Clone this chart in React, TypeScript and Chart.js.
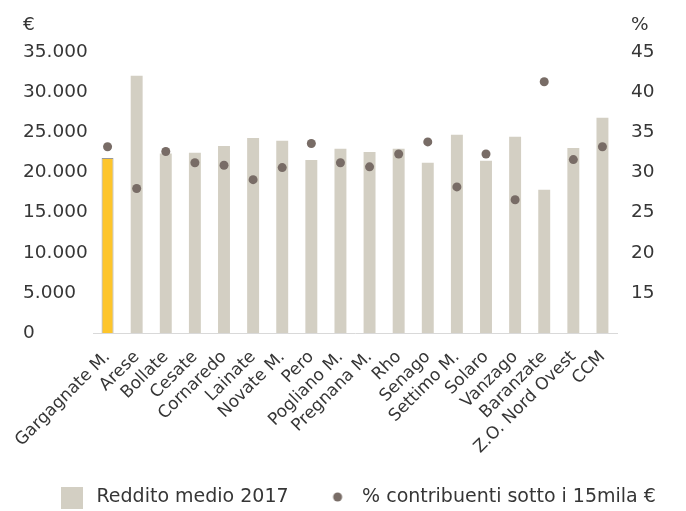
import React, { useEffect, useRef } from 'react';
import { Chart, registerables } from 'chart.js';

Chart.register(...registerables);

const categories = [
  'Gargagnate M.', 'Arese', 'Bollate', 'Cesate', 'Cornaredo', 'Lainate', 'Novate M.', 'Pero',
  'Pogliano M.', 'Pregnana M.', 'Rho', 'Senago', 'Settimo M.', 'Solaro', 'Vanzago', 'Baranzate',
  'Z.O. Nord Ovest', 'CCM',
];
const redditoMedio2017 = [
  21800, 32050, 22350, 22450, 23300, 24300, 23950, 21550, 22950, 22550, 22950, 21200, 24700,
  21450, 24450, 17850, 23050, 26800,
];
const contribuentiSotto15mila = [
  33.2, 28.0, 32.6, 31.2, 30.9, 29.1, 30.6, 33.6, 31.2, 30.7, 32.3, 33.8, 28.2, 32.3, 26.6, 41.3,
  31.6, 33.2,
];
const leftTicks = [0, 5000, 10000, 15000, 20000, 25000, 30000, 35000];
const rightTicks = [15, 20, 25, 30, 35, 40, 45];
const seriesNames = ['Reddito medio 2017', '% contribuenti sotto i 15mila €'];
const axisTitles = ['€', '%'];

const FONT = "'DejaVu Sans', sans-serif";
const TEXT = '#363636';
const BAR = '#D3CFC3';
const HIGHLIGHT = '#FDC52B';
const DOT = '#786C66';

const fmt = (v: number) => String(v).replace(/\B(?=(\d{3})+(?!\d))/g, '.');

export default function App() {
  const ref = useRef<HTMLCanvasElement | null>(null);

  useEffect(() => {
    if (!ref.current) return;

    const swatch = document.createElement('canvas');
    swatch.width = 40;
    swatch.height = 24;
    const sc = swatch.getContext('2d')!;
    sc.fillStyle = BAR;
    sc.fillRect(14, 2, 22, 22);

    const dot = document.createElement('canvas');
    dot.width = 40;
    dot.height = 12;
    const dc = dot.getContext('2d')!;
    dc.fillStyle = DOT;
    dc.beginPath();
    dc.arc(25, 6, 4.5, 0, Math.PI * 2);
    dc.fill();

    const titlesPlugin = {
      id: 'axisTitles',
      afterDraw(chart: any) {
        const { ctx, chartArea, scales } = chart;
        ctx.save();
        ctx.font = `18.5px ${FONT}`;
        ctx.fillStyle = TEXT;
        ctx.textBaseline = 'middle';
        ctx.textAlign = 'left';
        const y = chartArea.top - 27;
        ctx.fillText(axisTitles[0], scales.y.left, y);
        ctx.fillText(axisTitles[1], scales.y1.left + 14, y);
        ctx.restore();
      },
    };

    const chart = new Chart(ref.current, {
      type: 'bar',
      data: {
        labels: categories,
        datasets: [
          {
            type: 'bar',
            label: seriesNames[0],
            data: redditoMedio2017,
            backgroundColor: redditoMedio2017.map((_, i) => (i === 0 ? HIGHLIGHT : BAR)),
            borderColor: redditoMedio2017.map((_, i) => (i === 0 ? '#999999' : BAR)),
            borderWidth: redditoMedio2017.map((_, i) => (i === 0 ? 1 : 0)),
            barPercentage: 0.41,
            categoryPercentage: 1,
            yAxisID: 'y',
            order: 2,
          },
          {
            type: 'line',
            label: seriesNames[1],
            data: contribuentiSotto15mila,
            showLine: false,
            pointRadius: 4.5,
            pointHoverRadius: 4.5,
            pointBackgroundColor: DOT,
            pointBorderWidth: 0,
            borderColor: DOT,
            yAxisID: 'y1',
            order: 1,
          } as any,
        ],
      },
      options: {
        animation: false,
        responsive: true,
        maintainAspectRatio: false,
        layout: { padding: { left: 23, right: 0, top: 44, bottom: 1.5 } },
        plugins: {
          tooltip: { enabled: false },
          legend: {
            position: 'bottom',
            align: 'start',
            labels: {
              usePointStyle: true,
              pointStyleWidth: 40,
              padding: 24,
              color: TEXT,
              font: { family: FONT, size: 19 },
              generateLabels: () => [
                {
                  text: seriesNames[0],
                  pointStyle: swatch,
                  fillStyle: BAR,
                  strokeStyle: BAR,
                  lineWidth: 0,
                  hidden: false,
                  datasetIndex: 0,
                  fontColor: TEXT,
                } as any,
                {
                  text: seriesNames[1],
                  pointStyle: dot,
                  fillStyle: DOT,
                  strokeStyle: DOT,
                  lineWidth: 0,
                  hidden: false,
                  datasetIndex: 1,
                  fontColor: TEXT,
                } as any,
              ],
            },
          },
        },
        scales: {
          x: {
            grid: { display: false, drawTicks: false },
            border: { display: true, color: '#D9D9D9', width: 1 },
            ticks: {
              autoSkip: false,
              maxRotation: 45,
              minRotation: 45,
              padding: 14,
              color: TEXT,
              font: { family: FONT, size: 17 },
            },
            afterFit: (s: any) => {
              s.height = 130.5;
              s.paddingLeft = 0;
              s.paddingRight = 0;
            },
          },
          y: {
            position: 'left',
            min: 0,
            max: 35000,
            grid: { display: false, drawTicks: false },
            border: { display: false },
            afterBuildTicks: (s: any) => {
              s.ticks = leftTicks.map((v) => ({ value: v }));
            },
            ticks: {
              crossAlign: 'far',
              padding: 4,
              color: TEXT,
              font: { family: FONT, size: 18.5 },
              callback: (v: any) => fmt(Number(v)),
            },
            afterFit: (s: any) => {
              s.width = 70;
            },
          },
          y1: {
            position: 'right',
            min: 10,
            max: 45,
            grid: { display: false, drawTicks: false },
            border: { display: false },
            afterBuildTicks: (s: any) => {
              s.ticks = rightTicks.map((v) => ({ value: v }));
            },
            ticks: {
              crossAlign: 'near',
              padding: 14,
              color: TEXT,
              font: { family: FONT, size: 18.5 },
              callback: (v: any) => String(v),
            },
            afterFit: (s: any) => {
              s.width = 69;
            },
          },
        },
      },
      plugins: [titlesPlugin],
    });

    return () => chart.destroy();
  }, []);

  return (
    <div style={{ width: 686, height: 510, marginLeft: -8, position: 'relative' }}>
      <canvas ref={ref} />
    </div>
  );
}
